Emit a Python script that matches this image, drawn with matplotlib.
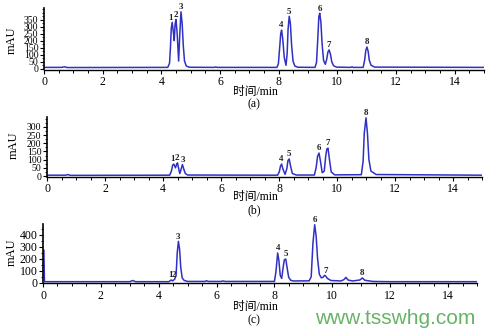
import matplotlib.pyplot as plt
from matplotlib.ticker import MultipleLocator

plt.rcParams['font.family'] = ['Liberation Serif', 'Noto Sans CJK SC']

# chromatogram traces (time in min, signal in mAU)
t_a = [0, 0.6, 0.7, 0.8, 4.22, 4.28, 4.31, 4.34, 4.37, 4.41, 4.44, 4.47,
       4.50, 4.54, 4.59, 4.63, 4.67, 4.71, 4.75, 4.79, 4.85, 4.95, 5.8, 5.85,
       5.9, 7.94, 7.99, 8.03, 8.07, 8.10, 8.14, 8.19, 8.25, 8.29, 8.32, 8.36,
       8.40, 8.44, 8.49, 8.55, 8.65, 9.24, 9.29, 9.33, 9.37, 9.40, 9.44,
       9.48, 9.53, 9.59, 9.64, 9.68, 9.72, 9.77, 9.81, 9.87, 9.97, 10.45,
       10.5, 10.55, 10.88, 10.93, 10.97, 11.01, 11.05, 11.09, 11.15, 11.27, 15]
y_a = [10, 10, 14, 9, 10, 40, 150, 290, 330, 260, 200, 320,
       350, 250, 55, 250, 405, 320, 160, 55, 20, 11, 10, 13,
       10, 10, 35, 140, 250, 275, 210, 80, 25, 110, 280, 373,
       320, 170, 55, 20, 11, 10, 45, 200, 370, 395, 330,
       180, 60, 32, 70, 120, 134, 100, 50, 22, 12, 10,
       14, 10, 10, 60, 130, 155, 125, 60, 25, 12, 10]

t_b = [0, 0.65, 0.72, 0.8, 4.23, 4.29, 4.33, 4.37, 4.43, 4.47, 4.50, 4.54,
       4.58, 4.63, 4.67, 4.72, 4.77, 4.85, 7.95, 8.01, 8.05, 8.09, 8.14,
       8.21, 8.27, 8.31, 8.35, 8.40, 8.46, 8.6, 9.22, 9.28, 9.33, 9.38, 9.43,
       9.49, 9.56, 9.61, 9.65, 9.69, 9.74, 9.80, 9.92, 10.84, 10.9, 10.94,
       11.0, 11.05, 11.1, 11.17, 11.35, 15]
y_b = [5, 5, 9, 4, 5, 30, 65, 73, 50, 72, 80, 45,
       15, 45, 70, 40, 15, 6, 5, 25, 60, 73, 40,
       10, 45, 95, 104, 60, 15, 6, 6, 50, 120, 140, 90,
       20, 30, 120, 165, 170, 100, 25, 7, 8, 90, 260,
       355, 260, 100, 30, 9, 5]

t_c = [0.03, 0.05, 3.0, 3.1, 3.2, 4.35, 4.43, 4.48, 4.55, 4.60, 4.64, 4.68,
       4.72, 4.76, 4.81, 4.88, 5.0, 5.6, 5.65, 5.72, 6.15, 6.22, 6.3, 8.0,
       8.05, 8.11, 8.15, 8.2, 8.25, 8.29, 8.34, 8.39, 8.44, 8.49, 8.56, 8.65,
       9.2, 9.27, 9.33, 9.39, 9.44, 9.49, 9.55, 9.62, 9.68, 9.73, 9.77,
       9.83, 9.95, 10.3, 10.4, 10.47, 10.54, 10.7, 10.95, 11.04, 11.12,
       11.4, 12, 15]
y_c = [270, 8, 8, 18, 8, 8, 22, 15, 28, 60, 250, 344,
       280, 130, 40, 18, 10, 10, 16, 10, 10, 14, 10, 10,
       90, 247, 190, 60, 35, 110, 190, 197, 120, 45, 20, 14,
       15, 50, 330, 483, 390, 200, 70, 40, 45, 61, 55,
       35, 18, 14, 25, 44, 22, 14, 22, 39, 20, 10, 8, 8]

# peak labels (number, time, apex height)
pk_a = [('1', 4.33, 330), ('2', 4.49, 350), ('3', 4.67, 405), ('4', 8.10, 275),
        ('5', 8.36, 373), ('6', 9.40, 395), ('7', 9.72, 134), ('8', 11.01, 155)]
pk_b = [('1', 4.34, 73), ('2', 4.48, 80), ('3', 4.67, 70), ('4', 8.09, 73),
        ('5', 8.35, 104), ('6', 9.38, 140), ('7', 9.69, 170), ('8', 11.0, 355)]
pk_c = [('1', 4.40, 22), ('2', 4.52, 28), ('3', 4.68, 344), ('4', 8.11, 247),
        ('5', 8.39, 197), ('6', 9.39, 483), ('7', 9.76, 61), ('8', 11.04, 39)]

yticks_a = [0, 50, 100, 150, 200, 250, 300, 350]
yticks_b = [0, 50, 100, 150, 200, 250, 300]
yticks_c = [0, 100, 200, 300, 400]

fig = plt.figure(figsize=(4.86, 3.33), dpi=100)
W, H = 486, 333

panels = [
    # trace, peaks, yticks, ylim, minor step, box px [left, right, bottom, top],
    # ytick size, tag, ylabel y/x, xlabel y, tag y
    (t_a, y_a, pk_a, yticks_a, (-5, 432), 25, [44, 484, 69.5, 8], 7, 'a', 40, 12, 92, 104),
    (t_b, y_b, pk_b, yticks_b, (-3, 360), 25, [47, 482, 176.5, 117], 7, 'b', 145, 14, 197, 210),
    (t_c, y_c, pk_c, yticks_c, (-3, 489), 50, [43, 477, 283, 224], 8.5, 'c', 252, 12, 307, 320),
]

for t, y, pk, yt, yl, mnr, box, ysz, tag, ylab_y, ylab_x, xlab_y, tag_y in panels:
    l, r, b, tp = box
    ax = fig.add_axes([l / W, 1 - b / H, (r - l) / W, (b - tp) / H])
    ax.plot(t, y, color='#3030c4', lw=1.1)
    ax.set_xlim(0, 15)
    ax.set_ylim(*yl)
    ax.set_xticks([0, 2, 4, 6, 8, 10, 12, 14])
    ax.xaxis.set_minor_locator(MultipleLocator(0.5))
    ax.set_yticks(yt)
    ax.yaxis.set_minor_locator(MultipleLocator(mnr))
    ax.tick_params(axis='x', which='major', labelsize=8.5, length=3, width=0.8, pad=2)
    ax.tick_params(axis='x', which='minor', length=2, width=0.7)
    ax.tick_params(axis='y', which='major', labelsize=ysz, length=3, width=0.8, pad=1)
    ax.tick_params(axis='y', which='minor', length=1.5, width=0.6)
    for s in ['top', 'right']:
        ax.spines[s].set_visible(False)
    ax.spines['left'].set_linewidth(1.2)
    ax.spines['bottom'].set_linewidth(1.0)
    ax.patch.set_alpha(0)
    for lab, px, py in pk:
        ax.annotate(lab, (px, py), xytext=(0, 0.5), textcoords='offset points',
                    ha='center', va='bottom', fontsize=6.5, fontweight='bold',
                    color='#222222')
    fig.text(ylab_x / W, 1 - ylab_y / H, 'mAU', rotation=90, ha='center',
             va='center', fontsize=9)
    fig.text(255 / W, 1 - xlab_y / H, '时间/min', ha='center', va='center',
             fontsize=8.5)
    fig.text(254 / W, 1 - tag_y / H, '(%s)' % tag, ha='center', va='center',
             fontsize=8.5)

fig.text(395 / W, 1 - 319 / H, 'www.tsswhg.com', ha='center', va='center',
         fontsize=15, color='#66b366', family='Liberation Sans')

fig.savefig('out.png', dpi=100)
